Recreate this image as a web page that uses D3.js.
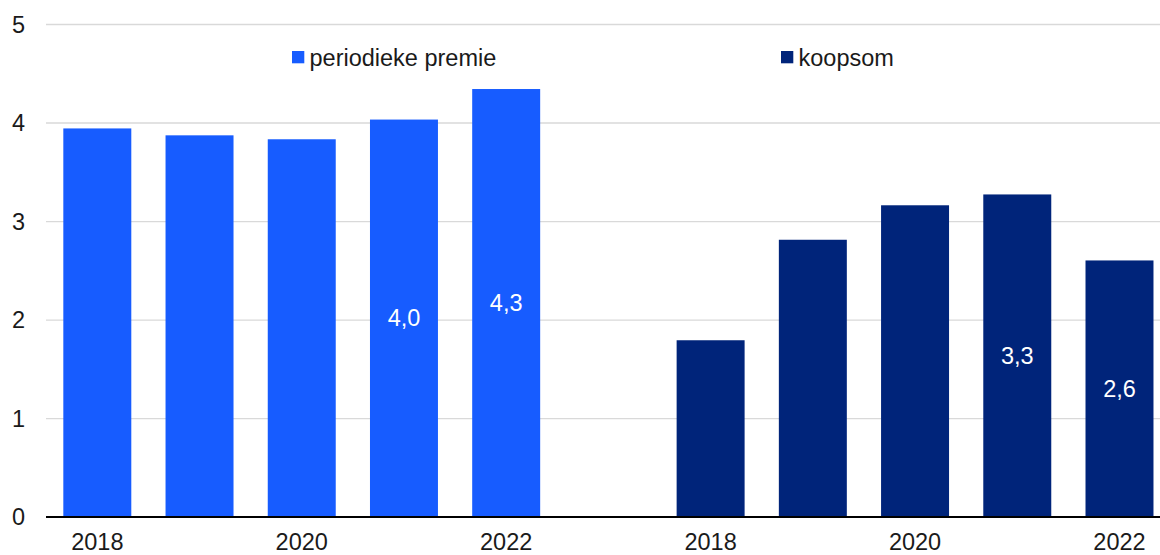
<!DOCTYPE html>
<html>
<head>
<meta charset="utf-8">
<script src="https://cdn.jsdelivr.net/npm/d3@7"></script>
<style>
  html, body { margin: 0; padding: 0; background: #fff; }
  svg { display: block; font-family: "Liberation Sans", Arial, sans-serif; }
</style>
</head>
<body>
<svg id="chart" width="1160" height="555"></svg>
<script>
// Years per group
const years = ["2018", "2019", "2020", "2021", "2022"];
// Series values (billions)
const periodiekePremie = [3.94, 3.87, 3.83, 4.03, 4.34];
const koopsom = [1.79, 2.81, 3.16, 3.27, 2.60];
// Series names
const seriesNames = ["periodieke premie", "koopsom"];
const seriesColors = ["#175cff", "#00247a"];
// Years shown as tick labels
const shownYears = ["2018", "2020", "2022"];
// Bars that carry a value label
const labelledYears = ["2021", "2022"];
const yTicks = [0, 1, 2, 3, 4, 5];

const svg = d3.select("#chart");
const W = 1160;
const FS = 23.5;

// Slots: five bars, one empty gap slot, five bars
const slots = [
  ...years.map(y => "p" + y),
  "gap",
  ...years.map(y => "k" + y)
];
const x = d3.scaleBand().domain(slots).range([46.2, 1170.6]).paddingInner(0.335).paddingOuter(0.1675);
const y = d3.scaleLinear().domain([0, 5]).range([516.6, 24]);

const bars = [
  ...years.map((yr, i) => ({ key: "p" + yr, year: yr, value: periodiekePremie[i], s: 0 })),
  ...years.map((yr, i) => ({ key: "k" + yr, year: yr, value: koopsom[i], s: 1 }))
];

// Gridlines and y tick labels
const yAxis = d3.axisLeft(y).tickValues(yTicks).tickSize(-(W - 46)).tickFormat(d => d);
const gy = svg.append("g").attr("transform", "translate(46,0)").call(yAxis);
gy.select(".domain").remove();
gy.selectAll(".tick line").attr("stroke", "#d9d9d9").attr("stroke-width", 1.3);
gy.selectAll(".tick text")
  .attr("x", -21).attr("dy", "0.35em")
  .attr("text-anchor", "end")
  .attr("font-size", FS).attr("fill", "#1a1a1a")
  .attr("font-family", "Liberation Sans, Arial, sans-serif");

// Bars
svg.append("g").selectAll("rect").data(bars).join("rect")
  .attr("x", d => x(d.key))
  .attr("width", x.bandwidth())
  .attr("y", d => y(d.value))
  .attr("height", d => y(0) - y(d.value))
  .attr("fill", d => seriesColors[d.s]);

// Value labels, centred in the bar
svg.append("g").selectAll("text").data(bars.filter(d => labelledYears.includes(d.year))).join("text")
  .attr("x", d => x(d.key) + x.bandwidth() / 2)
  .attr("y", d => (y(d.value) + y(0)) / 2)
  .attr("dy", "0.35em")
  .attr("text-anchor", "middle")
  .attr("font-size", FS)
  .attr("fill", "#fff")
  .text(d => d3.format(".1f")(d.value).replace(".", ","));

// Baseline
svg.append("line")
  .attr("x1", 46).attr("x2", W)
  .attr("y1", y(0) + 0.5).attr("y2", y(0) + 0.5)
  .attr("stroke", "#000").attr("stroke-width", 2);

// X tick labels
const xAxis = d3.axisBottom(x)
  .tickValues(slots.filter(s => s !== "gap" && shownYears.includes(s.slice(1))))
  .tickSize(0)
  .tickFormat(s => s.slice(1));
const gx = svg.append("g").attr("transform", `translate(0,${y(0)})`).call(xAxis);
gx.select(".domain").remove();
gx.selectAll(".tick text")
  .attr("y", 33.2).attr("dy", 0)
  .attr("font-size", FS).attr("fill", "#1a1a1a")
  .attr("font-family", "Liberation Sans, Arial, sans-serif");

// Legend
const legendX = [292, 781];
const lg = svg.append("g").selectAll("g").data(seriesNames).join("g")
  .attr("transform", (d, i) => `translate(${legendX[i]},51)`);
lg.append("rect").attr("width", 12.3).attr("height", 12.3).attr("fill", (d, i) => seriesColors[i]);
lg.append("text")
  .attr("x", 17.5).attr("y", 15)
  .attr("font-size", FS).attr("fill", "#1a1a1a")
  .text(d => d);
</script>
</body>
</html>
